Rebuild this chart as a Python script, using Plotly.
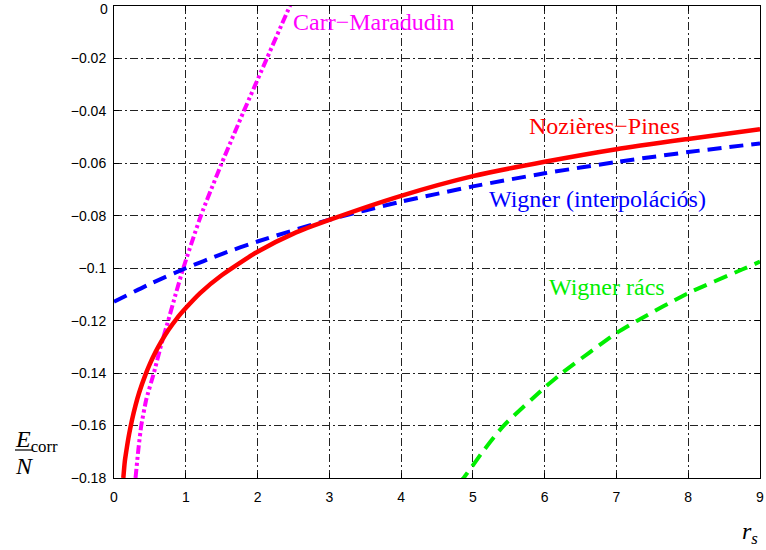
import plotly.graph_objects as go

# ---- data ----
np_rs = [0.13, 0.15, 0.17, 0.19, 0.21, 0.25, 0.30, 0.35, 0.44, 0.50, 0.58, 0.66, 0.76, 0.88, 1.0, 1.2, 1.5, 2.0, 2.5, 3.0,
         4.0, 5.0, 6.0, 7.0, 8.0, 9.0]
np_e = [-0.180, -0.1738, -0.1700, -0.1665, -0.1634, -0.1580, -0.1523, -0.1475, -0.1405, -0.1365, -0.1319, -0.1279,
        -0.1235, -0.1190, -0.1152, -0.1095, -0.1027, -0.0937, -0.0868, -0.0816, -0.0724, -0.0649, -0.0594, -0.0546,
        -0.0507, -0.0470]

wig_rs = [0.0, 0.5, 1.0, 1.5, 2.0, 3.0, 4.0, 5.0, 6.0, 7.0, 8.0, 9.0]
wig_e = [-0.1128, -0.1060, -0.1000, -0.0946, -0.0898, -0.0815, -0.0746, -0.0688, -0.0638, -0.0595, -0.0557, -0.0524]

cm_rs = [0.30, 0.34, 0.38, 0.45, 0.555, 0.655, 0.755, 0.86, 0.965, 1.21, 1.50, 1.81, 2.13, 2.45, 2.6]
cm_e = [-0.180, -0.169, -0.160, -0.150, -0.140, -0.1295, -0.120, -0.1098, -0.100, -0.080, -0.060, -0.040, -0.020,
        0.000, 0.009]

wl_rs = [4.80, 4.87, 5.15, 5.43, 6.0, 6.24, 7.0, 7.29, 8.0, 8.75, 9.0]
wl_e = [-0.182, -0.180, -0.1695, -0.160, -0.1455, -0.140, -0.1247, -0.120, -0.1095, -0.1005, -0.0975]

x_ticks = [0, 1, 2, 3, 4, 5, 6, 7, 8, 9]
x_ticktext = ["0", "1", "2", "3", "4", "5", "6", "7", "8", "9"]
y_ticks = [-0.18, -0.16, -0.14, -0.12, -0.10, -0.08, -0.06, -0.04, -0.02, 0.0]
y_ticktext = ["\u22120.18", "\u22120.16", "\u22120.14", "\u22120.12", "\u22120.1", "\u22120.08", "\u22120.06",
              "\u22120.04", "\u22120.02", "0"]

labels = ["Carr\u2212Maradudin", "Nozi\u00e8res\u2212Pines", "Wigner (interpol\u00e1ci\u00f3s)", "Wigner r\u00e1cs"]
label_x = [2.46, 5.75, 5.20, 6.035]
label_y = [-0.0062, -0.0457, -0.0737, -0.107]
label_colors = ["#ff00ff", "#ff0000", "#0000ff", "#00ee00"]

SERIF = "Liberation Serif, Times New Roman, serif"
SANS = "Liberation Sans, Arial, Helvetica, sans-serif"

fig = go.Figure()
fig.add_trace(go.Scatter(x=cm_rs, y=cm_e, mode="lines",
                         line=dict(color="#ff00ff", width=4, dash="9px,3px,3px,3px,3px,3px",
                                   shape="spline", smoothing=0.5)))
fig.add_trace(go.Scatter(x=wl_rs, y=wl_e, mode="lines",
                         line=dict(color="#00ee00", width=4, dash="14px,8px", shape="spline", smoothing=0.6)))
fig.add_trace(go.Scatter(x=wig_rs, y=wig_e, mode="lines",
                         line=dict(color="#0000ff", width=4, dash="14px,8px", shape="spline", smoothing=0.6)))
fig.add_trace(go.Scatter(x=np_rs, y=np_e, mode="lines",
                         line=dict(color="#ff0000", width=4.5, shape="spline", smoothing=0.6)))

for t, lx, ly, c in zip(labels, label_x, label_y, label_colors):
    fig.add_annotation(x=lx, y=ly, xref="x", yref="y", text=t, showarrow=False,
                       xanchor="left", yanchor="middle", font=dict(family=SERIF, size=24, color=c))

# top y tick label drawn slightly lower so it stays inside the page (as in the reference)
y_tick_shown = list(y_ticktext[:-1]) + [""]
fig.add_annotation(x=0, y=1 - (9 - 6) / 472, xref="paper", yref="paper", text=y_ticktext[-1],
                   showarrow=False, xanchor="right", yanchor="middle", xshift=-4,
                   font=dict(family=SANS, size=14, color="black"))

# y-axis label as fraction E_corr / N
fig.add_annotation(x=(13 - 114) / 646, y=1 - (441 - 6) / 472, xref="paper", yref="paper",
                   text="<i>E</i><sub>corr</sub>", showarrow=False, xanchor="left", yanchor="middle",
                   font=dict(family=SERIF, size=24, color="black"))
fig.add_annotation(x=(13 - 114) / 646, y=1 - (466 - 6) / 472, xref="paper", yref="paper",
                   text="<i>N</i>", showarrow=False, xanchor="left", yanchor="middle",
                   font=dict(family=SERIF, size=24, color="black"))
fig.add_shape(type="line", xref="paper", yref="paper",
              x0=(15 - 114) / 646, x1=(33 - 114) / 646, y0=1 - (450 - 6) / 472, y1=1 - (450 - 6) / 472,
              line=dict(color="black", width=1.2))
# x-axis label r_s
fig.add_annotation(x=(750 - 114) / 646, y=1 - (533 - 6) / 472, xref="paper", yref="paper",
                   text="<i>r<sub>s</sub></i>", showarrow=False, xanchor="center", yanchor="middle",
                   font=dict(family=SERIF, size=24, color="black"))

axis_common = dict(showline=True, linecolor="black", linewidth=1, mirror="ticks", ticks="inside",
                   ticklen=5, tickcolor="black", tickwidth=1, zeroline=False,
                   showgrid=True, gridcolor="#222222", gridwidth=1, griddash="8px,3px,2px,3px",
                   ticklabeloverflow="allow", automargin=False,
                   tickfont=dict(family=SANS, size=14, color="black"))

fig.update_xaxes(range=[0, 9], tickvals=x_ticks, ticktext=x_ticktext, ticklabelstandoff=6, **axis_common)
fig.update_yaxes(range=[-0.18, 0], tickvals=y_ticks, ticktext=y_tick_shown, ticklabelstandoff=4, **axis_common)

fig.update_layout(width=766, height=550, margin=dict(l=114, r=6, t=6, b=72, autoexpand=False),
                  plot_bgcolor="white", paper_bgcolor="white", showlegend=False)

fig.write_html("out.html", config={"displayModeBar": False},
               post_script="document.body.style.margin='0';document.body.style.padding='0';"
                           "document.documentElement.style.overflow='hidden';")
